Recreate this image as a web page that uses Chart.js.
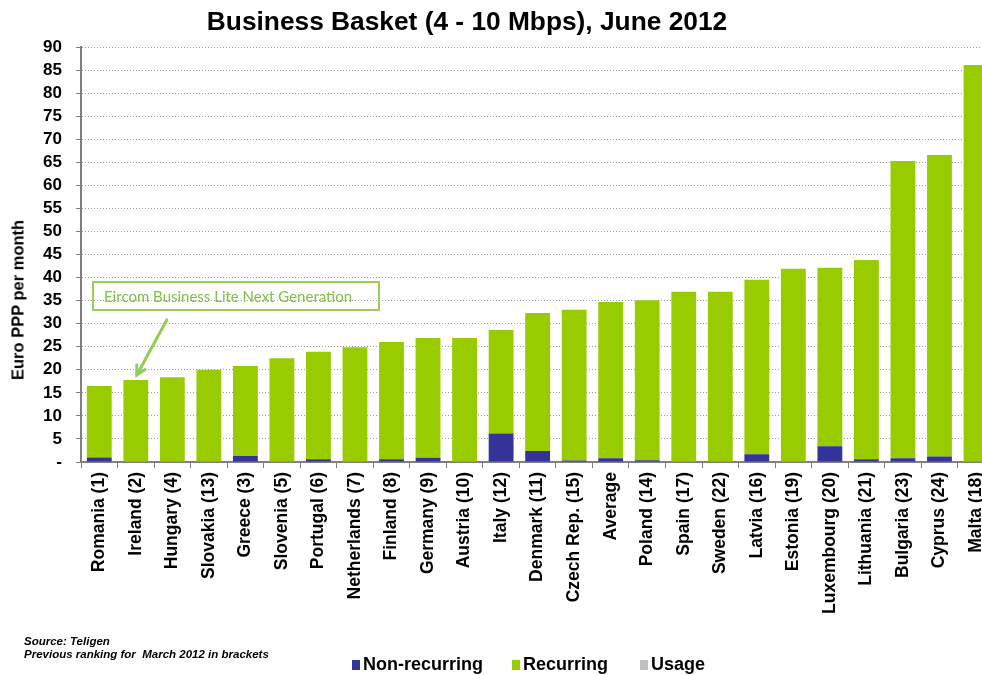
<!DOCTYPE html>
<html>
<head>
<meta charset="utf-8">
<title>Business Basket (4 - 10 Mbps), June 2012</title>
<script src="https://cdn.jsdelivr.net/npm/chart.js@4"></script>
<style>
  body { margin: 0; width: 982px; height: 675px; overflow: hidden; background: #fff;
         font-family: "Liberation Sans", Arial, sans-serif; position: relative; }
  #wrap { position: absolute; left: 0; top: 0; width: 1001px; height: 675px; }
  .title { position: absolute; left: 0; width: 934px; top: 6px; text-align: center;
           font-weight: bold; font-size: 26.3px; color: #000; }
  .ytitle { position: absolute; left: 18px; top: 300px; transform: translate(-50%, -50%) rotate(-90deg);
            white-space: nowrap; font-weight: bold; font-size: 16.5px; }
  .note { position: absolute; left: 24px; top: 635px; font-size: 11.5px; font-style: italic;
          font-weight: bold; line-height: 13px; color: #000; }
  .legend { position: absolute; top: 654px; font-weight: bold; font-size: 18px; white-space: nowrap; }
  .legend span.sw { display: inline-block; width: 8px; height: 10px; margin-right: 3px; vertical-align: 0px; }
  .callout { position: absolute; left: 92px; top: 281px; width: 274px; height: 26px;
             border: 2px solid #9bd05a; color: #80c046; font-family: Lato, sans-serif; font-size: 15px;
             line-height: 26px; padding-left: 10px; box-sizing: content-box; }
</style>
</head>
<body>
<div id="wrap"><canvas id="chart" width="1001" height="675"></canvas></div>
<div class="title">Business Basket (4 - 10 Mbps), June 2012</div>
<div class="ytitle">Euro PPP per month</div>
<div class="callout">Eircom Business Lite Next Generation</div>
<div class="note">Source: Teligen<br>Previous ranking for&nbsp; March 2012 in brackets</div>
<div class="legend" style="left:352px"><span class="sw" style="background:#333399"></span>Non-recurring</div>
<div class="legend" style="left:512px"><span class="sw" style="background:#99cc00"></span>Recurring</div>
<div class="legend" style="left:640px"><span class="sw" style="background:#c0c0c0"></span>Usage</div>
<script>
const countries = ['Romania (1)', 'Ireland (2)', 'Hungary (4)', 'Slovakia (13)', 'Greece (3)', 'Slovenia (5)',
  'Portugal (6)', 'Netherlands (7)', 'Finland (8)', 'Germany (9)', 'Austria (10)', 'Italy (12)',
  'Denmark (11)', 'Czech Rep. (15)', 'Average', 'Poland (14)', 'Spain (17)', 'Sweden (22)', 'Latvia (16)',
  'Estonia (19)', 'Luxembourg (20)', 'Lithuania (21)', 'Bulgaria (23)', 'Cyprus (24)', 'Malta (18)'];
const nonRecurring = [1.0, 0, 0, 0, 1.3, 0, 0.6, 0, 0.6, 0.9, 0, 6.2,
  2.4, 0.3, 0.8, 0.4, 0, 0, 1.7, 0, 3.4, 0.6, 0.8, 1.2, 0];
const recurring = [15.5, 17.8, 18.4, 20.0, 19.5, 22.5, 23.3, 24.9, 25.4, 26.0, 26.9, 22.4,
  29.9, 32.7, 33.9, 34.7, 36.9, 36.9, 37.8, 41.9, 38.7, 43.2, 64.5, 65.4, 86.1];
const usage = [0, 0, 0, 0, 0, 0, 0, 0, 0, 0, 0, 0, 0, 0, 0, 0, 0, 0, 0, 0, 0, 0, 0, 0, 0];
const highlighted = 'Ireland (2)';

// green arrow from the callout box down to the highlighted bar
const arrowPlugin = {
  id: 'arrow',
  afterDraw(chart) {
    const i = countries.indexOf(highlighted);
    const tipX = chart.scales.x.getPixelForValue(i) + 1;
    const tipY = chart.scales.y.getPixelForValue(nonRecurring[i] + recurring[i]) - 5;
    const fromX = tipX + 30, fromY = tipY - 55;
    const ctx = chart.ctx;
    const ang = Math.atan2(tipY - fromY, tipX - fromX);
    ctx.save();
    ctx.strokeStyle = '#92cd55';
    ctx.lineWidth = 3;
    ctx.lineCap = 'round';
    ctx.beginPath();
    ctx.moveTo(fromX, fromY);
    ctx.lineTo(tipX, tipY);
    ctx.moveTo(tipX - 10 * Math.cos(ang - 0.5), tipY - 10 * Math.sin(ang - 0.5));
    ctx.lineTo(tipX, tipY);
    ctx.lineTo(tipX - 10 * Math.cos(ang + 0.5), tipY - 10 * Math.sin(ang + 0.5));
    ctx.stroke();
    ctx.restore();
  }
};

new Chart(document.getElementById('chart'), {
  type: 'bar',
  data: {
    labels: countries,
    datasets: [
      { label: 'Non-recurring', data: nonRecurring, backgroundColor: '#333399' },
      { label: 'Recurring', data: recurring, backgroundColor: '#99cc00' },
      { label: 'Usage', data: usage, backgroundColor: '#c0c0c0' }
    ]
  },
  options: {
    responsive: false,
    animation: false,
    datasets: { bar: { categoryPercentage: 1, barPercentage: 0.68 } },
    layout: { padding: { top: 47, left: 0, right: 0, bottom: 0 } },
    plugins: { legend: { display: false }, tooltip: { enabled: false } },
    scales: {
      x: {
        stacked: true,
        afterFit: s => { s.height = 213; },
        border: { color: '#808080', width: 2 },
        grid: { offset: true, drawOnChartArea: false, tickLength: 6, tickColor: '#808080' },
        ticks: { autoSkip: false, minRotation: 90, maxRotation: 90, padding: 4, color: '#000',
                 font: { family: 'Liberation Sans', size: 17.5, weight: 'bold' } }
      },
      y: {
        stacked: true,
        min: 0, max: 90,
        afterFit: s => { s.width = 81; },
        border: { color: '#808080', width: 2, dash: [1, 2] },
        grid: { color: '#9a9a9a', tickLength: 5, tickColor: '#808080', tickBorderDash: [] },
        ticks: { stepSize: 5, autoSkip: false, padding: 14, color: '#000',
                 font: { family: 'Liberation Sans', size: 17, weight: 'bold' },
                 callback: v => v === 0 ? '-' : v }
      }
    }
  },
  plugins: [arrowPlugin]
});
</script>
</body>
</html>
